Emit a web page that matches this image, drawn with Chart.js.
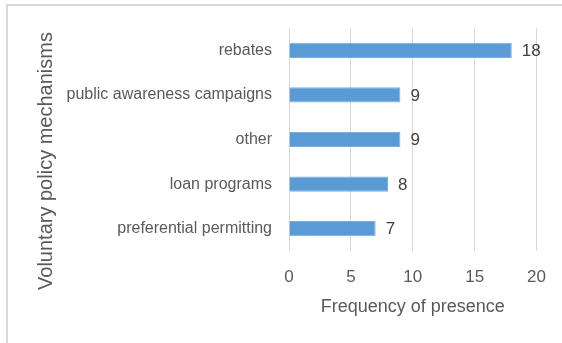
<!DOCTYPE html>
<html>
<head>
<meta charset="utf-8">
<script src="https://cdn.jsdelivr.net/npm/chart.js@4"></script>
<style>
  body { margin: 0; background: #fff; }
  #frame {
    position: absolute; left: 6px; top: 4px; width: 600px; height: 400px;
    border-left: 2px solid #d9d9d9; border-top: 2px solid #d9d9d9;
  }
  #wrap { position: absolute; left: 0; top: 0; width: 562px; height: 343px; }
</style>
</head>
<body>
<div id="frame"></div>
<div id="wrap"><canvas id="mechChart"></canvas></div>
<script>
var mechanisms = ['rebates', 'public awareness campaigns', 'other', 'loan programs', 'preferential permitting'];
var frequency = [18, 9, 9, 8, 7];
var xTicks = [0, 5, 10, 15, 20];
var yTitle = 'Voluntary policy mechanisms';

var fontName = "'Liberation Sans', Arial, sans-serif";

// writes each bar's number just past its end, and the side title
var valueLabels = {
	id: 'valueLabels',
	afterDatasetsDraw: function(chart) {
		var ctx = chart.ctx;
		var meta = chart.getDatasetMeta(0);
		ctx.save();
		ctx.font = '17px ' + fontName;
		ctx.fillStyle = '#404040';
		ctx.textBaseline = 'middle';
		meta.data.forEach(function(bar, i) {
			ctx.fillText(String(frequency[i]), bar.x + 10, bar.y + 1);
		});
		ctx.restore();

		// y title sits centred on the whole chart height, like the office charts do
		ctx.save();
		ctx.translate(46, 161);
		ctx.rotate(-Math.PI / 2);
		ctx.font = '20px ' + fontName;
		ctx.fillStyle = '#595959';
		ctx.textAlign = 'center';
		ctx.textBaseline = 'middle';
		ctx.fillText(yTitle, 0, 0);
		ctx.restore();
	}
};

new Chart(document.getElementById('mechChart'), {
	type: 'bar',
	data: {
		labels: mechanisms,
		datasets: [{
			data: frequency,
			backgroundColor: '#5b9bd5',
			borderColor: '#7aaee0',
			borderWidth: 1,
			categoryPercentage: 1,
			barPercentage: 0.34
		}]
	},
	options: {
		indexAxis: 'y',
		responsive: true,
		maintainAspectRatio: false,
		animation: false,
		layout: { padding: { left: 28, top: 28, right: 14, bottom: 25 } },
		plugins: {
			legend: { display: false },
			tooltip: { enabled: false }
		},
		scales: {
			x: {
				min: 0,
				max: 20,
				afterBuildTicks: function(scale) {
					scale.ticks = xTicks.map(function(v) { return { value: v }; });
				},
				grid: { color: '#d9d9d9', drawTicks: false },
				border: { display: false },
				ticks: { color: '#595959', font: { family: fontName, size: 17 }, padding: 16 },
				title: {
					display: true,
					text: 'Frequency of presence',
					color: '#595959',
					font: { family: fontName, size: 18 },
					padding: { top: 9, bottom: 0 }
				},
				afterFit: function(scale) { scale.height = 67; }
			},
			y: {
				grid: { display: false, drawTicks: false },
				border: { display: false },
				ticks: { color: '#595959', font: { family: fontName, size: 16 }, padding: 17 },
				afterFit: function(scale) { scale.width = 289 - 28; }
			}
		}
	},
	plugins: [valueLabels]
});
</script>
</body>
</html>
